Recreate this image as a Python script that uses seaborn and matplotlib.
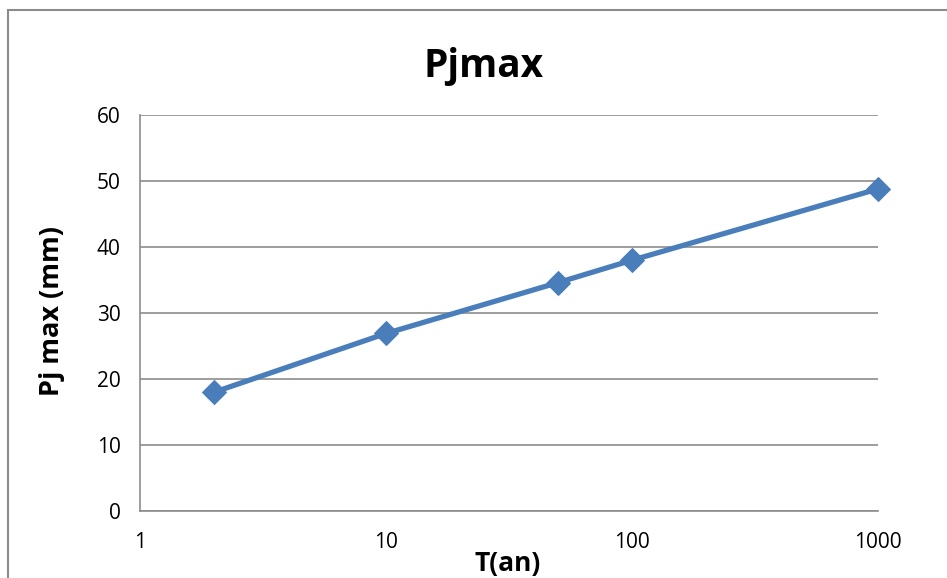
import pandas as pd
import seaborn as sns
import matplotlib.pyplot as plt
import matplotlib.patches as patches

# Data
T = [2, 10, 50, 100, 1000]
pj_max = [18.0, 26.9, 34.6, 38.0, 48.8]
x_ticks = [1, 10, 100, 1000]
x_ticklabels = ['1', '10', '100', '1000']
y_ticks = [0, 10, 20, 30, 40, 50, 60]

df = pd.DataFrame({'T': T, 'Pj': pj_max})

sns.set_style('white')
plt.rcParams['font.family'] = ['Open Sans', 'DejaVu Sans']

fig = plt.figure(figsize=(9.47, 5.78), dpi=100)
ax = fig.add_axes([0.1478, 0.1159, 0.7793, 0.6851])

sns.lineplot(data=df, x='T', y='Pj', ax=ax, color='#4A7EBB', linewidth=3.8,
             marker='D', markersize=12, markeredgecolor='#4A7EBB', clip_on=False)

ax.set_xscale('log')
ax.set_xlim(1, 1000)
ax.set_ylim(0, 60)
ax.set_xticks(x_ticks)
ax.set_xticklabels(x_ticklabels)
ax.minorticks_off()
ax.set_yticks(y_ticks)

ax.grid(axis='y', color='#8C8C8C', linewidth=1.2)
ax.set_axisbelow(True)
for s in ['top', 'right']:
    ax.spines[s].set_visible(False)
for s in ['left', 'bottom']:
    ax.spines[s].set_color('#8C8C8C')
    ax.spines[s].set_linewidth(1.2)

ax.tick_params(axis='both', direction='out', length=6, width=1.2, color='#8C8C8C',
               labelsize=15, labelcolor='black')
ax.tick_params(axis='x', pad=9)
ax.tick_params(axis='y', pad=8)

ax.set_xlabel('')
ax.set_ylabel('')
fig.text(0.5365, 0.012, 'T(an)', ha='center', va='baseline', fontsize=19,
         fontweight='bold', color='black')
fig.text(0.055, 0.462, 'Pj max (mm)', ha='center', va='center', rotation=90,
         fontsize=19.5, fontweight='bold', color='black')
fig.text(0.511, 0.8668, 'Pjmax', ha='center', va='baseline', fontsize=28,
         fontweight='bold', color='black')

# chart area border (Excel style)
border = patches.Rectangle((8 / 947, -0.1), 1.2, 1 - 10 / 578 + 0.1,
                           transform=fig.transFigure, fill=False,
                           edgecolor='#8C8C8C', linewidth=1.5)
fig.patches.append(border)

fig.savefig('out.png', dpi=100)
